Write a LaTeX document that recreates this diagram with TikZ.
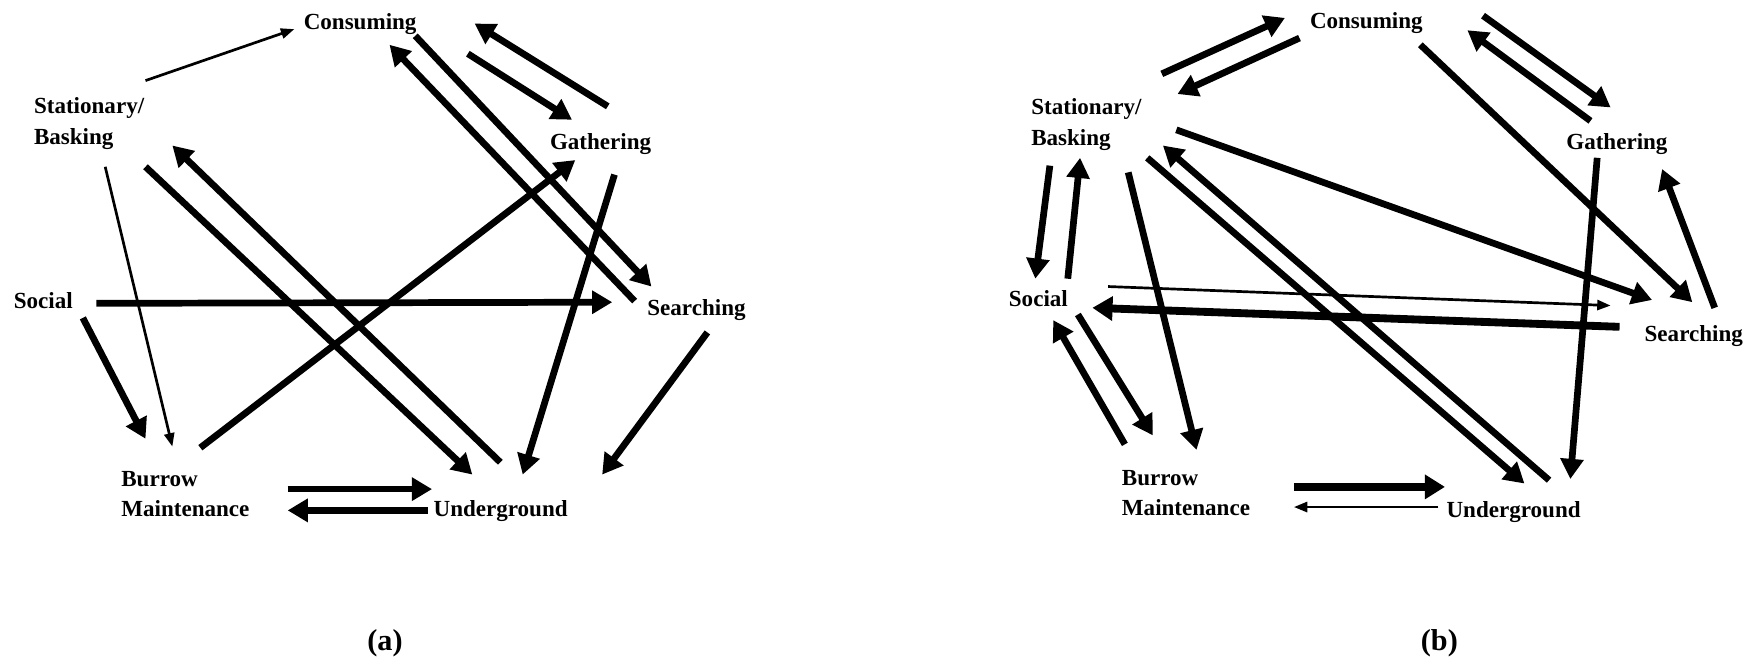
\documentclass[tikz,border=0pt]{standalone}
\usepackage{fontspec}
\setmainfont{Liberation Serif}
\usetikzlibrary{arrows.meta}

\begin{document}
\begin{tikzpicture}[x=0.5pt,y=-0.5pt,
        behav/.style={anchor=north west,inner sep=0pt,align=left,
            font=\fontsize{10.3}{13.5}\selectfont\bfseries},
        panel/.style={inner sep=0pt,font=\fontsize{13.5}{16}\selectfont\bfseries},
        arr/.style={line width=3pt,-{Triangle[length=9pt,width=10pt]}},
        heavyarr/.style={line width=3.5pt,-{Triangle[length=9pt,width=10.5pt]}},
        thinarr/.style={line width=1.2pt,-{Triangle[length=6pt,width=4.5pt]}}
        ]
    \useasboundingbox (0,0) rectangle (1568,590);

    % (a)
    \node (ca) at (271, 12) [behav] {Consuming};
    \node (sa) at (30, 87) [behav] {Stationary/\\Basking};
    \node (ga) at (491, 119) [behav] {Gathering};
    \node (oa) at (12, 261) [behav] {Social};
    \node (ra) at (578, 267) [behav] {Searching};
    \node (ba) at (108, 421) [behav] {Burrow\\Maintenance};
    \node (ua) at (387, 447) [behav] {Underground};
    \node (capa) at (344, 575) [panel] {(a)};

    \draw[thinarr] ([shift={(100,-15)}]sa.north west) to ([shift={(-8,14)}]ca.north west);
    \draw[arr] ([shift={(100,20)}]ca.north west) to ([shift={(4,-11)}]ra.north west);
    \draw[arr] ([shift={(-11,2)}]ra.north west) to ([shift={(77,28)}]ca.north west);
    \draw[arr] ([shift={(147,36)}]ca.north west) to ([shift={(20,-12)}]ga.north west);
    \draw[arr] ([shift={(52,-24)}]ga.north west) to ([shift={(153,9)}]ca.north west);
    \draw[arr] ([shift={(100,62)}]sa.north west) to ([shift={(35,-23)}]ua.north west);
    \draw[arr] ([shift={(60,-34)}]ua.north west) to ([shift={(124,43)}]sa.north west);
    \draw[thinarr] ([shift={(64,62)}]sa.north west) to ([shift={(46,-22)}]ba.north west);
    \draw[arr] ([shift={(62,23)}]oa.north west) to ([shift={(22,-29)}]ba.north west);
    \draw[arr] ([shift={(74,10)}]oa.north west) to ([shift={(-31,3)}]ra.north west);
    \draw[arr] ([shift={(71,-21)}]ba.north west) to ([shift={(23,24)}]ga.north west);
    \draw[arr] ([shift={(58,37)}]ga.north west) to ([shift={(80,-23)}]ua.north west);
    \draw[arr] ([shift={(54,30)}]ra.north west) to ([shift={(151,-23)}]ua.north west);
    \draw[arr] ([shift={(149,16)}]ba.north west) to ([shift={(-1,-10)}]ua.north west);
    \draw[arr] ([shift={(-5,9)}]ua.north west) to ([shift={(149,35)}]ba.north west);

    % (b)
    \node (cb) at (1170, 11) [behav] {Consuming};
    \node (sb) at (921, 88) [behav] {Stationary/\\Basking};
    \node (gb) at (1399, 119) [behav] {Gathering};
    \node (ob) at (901, 259) [behav] {Social};
    \node (rb) at (1469, 290) [behav] {Searching};
    \node (bb) at (1002, 420) [behav] {Burrow\\Maintenance};
    \node (ub) at (1292, 448) [behav] {Underground};
    \node (capb) at (1286, 575) [panel] {(b)};

    \draw[arr] ([shift={(117,-22)}]sb.north west) to ([shift={(-22,5)}]cb.north west);
    \draw[arr] ([shift={(-9,23)}]cb.north west) to ([shift={(131,-4)}]sb.north west);
    \draw[arr] ([shift={(155,3)}]cb.north west) to ([shift={(40,-23)}]gb.north west);
    \draw[arr] ([shift={(22,-11)}]gb.north west) to ([shift={(141,16)}]cb.north west);
    \draw[arr] ([shift={(99,29)}]cb.north west) to ([shift={(43,-20)}]rb.north west);
    \draw[arr] ([shift={(130,28)}]sb.north west) to ([shift={(7,-22)}]rb.north west);
    \draw[arr] ([shift={(63,-15)}]rb.north west) to ([shift={(86,32)}]gb.north west);
    \draw[arr] ([shift={(28,22)}]gb.north west) to ([shift={(111,-20)}]ub.north west);
    \draw[arr] ([shift={(17,60)}]sb.north west) to ([shift={(24,-10)}]ob.north west);
    \draw[arr] ([shift={(53,-10)}]ob.north west) to ([shift={(44,53)}]sb.north west);
    \draw[thinarr] ([shift={(89,-3)}]ob.north west) to ([shift={(-30,-17)}]rb.north west);
    \draw[heavyarr] ([shift={(-22,2)}]rb.north west) to ([shift={(75,16)}]ob.north west);
    \draw[arr] ([shift={(62,22)}]ob.north west) to ([shift={(28,-31)}]bb.north west);
    \draw[arr] ([shift={(3,-23)}]bb.north west) to ([shift={(40,27)}]ob.north west);
    \draw[arr] ([shift={(87,66)}]sb.north west) to ([shift={(67,-18)}]bb.north west);
    \draw[arr] ([shift={(104,53)}]sb.north west) to ([shift={(70,-16)}]ub.north west);
    \draw[arr] ([shift={(92,-19)}]ub.north west) to ([shift={(118,42)}]sb.north west);
    \draw[heavyarr] ([shift={(154,15)}]bb.north west) to ([shift={(-1,-13)}]ub.north west);
    \draw[thinarr] ([shift={(-7,5)}]ub.north west) to ([shift={(154,33)}]bb.north west);
\end{tikzpicture}
\end{document}
